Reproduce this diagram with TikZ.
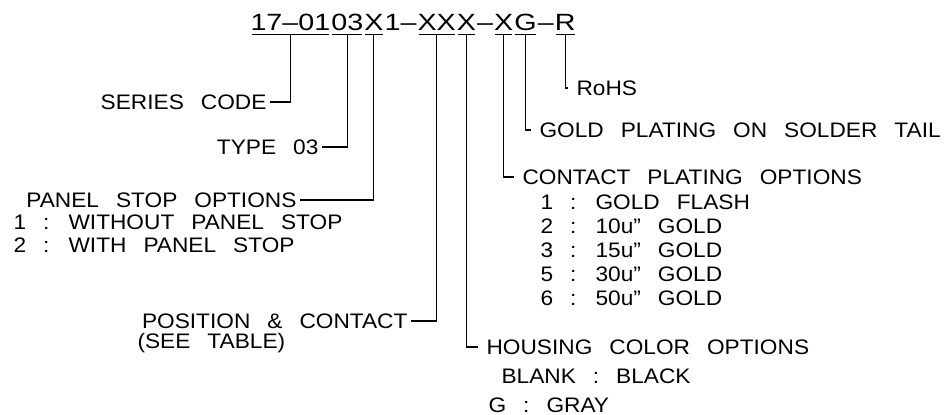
\documentclass[tikz,border=0pt]{standalone}
\usepackage{fontspec}
\newfontfamily\cadfont{Liberation Sans}[FakeStretch=1.08]
\newfontfamily\codefont{Liberation Sans}[FakeStretch=1.22]
\newcommand\cadtext[1]{\cadfont\fontsize{21}{#1}\selectfont\spaceskip=17pt plus 2pt\relax}
\usetikzlibrary{positioning}
\tikzset{
  codechar/.style={font=\codefont\fontsize{23.5}{26}\selectfont,inner xsep=0pt,inner ysep=4pt,text height=17pt,text depth=0pt},
  lbl/.style={font={\cadtext{24}},inner sep=3pt},
  rlbl/.style={lbl,inner xsep=8pt},
  optlist/.style={font={\cadtext{#1}},align=left,inner sep=0pt,anchor=north west},
}
\begin{document}
\begin{tikzpicture}[x=1pt,y=-1pt,line width=1.1pt]
  \useasboundingbox (0,0) rectangle (948,415);
  % part number
  \node[codechar,anchor=base west] (c1701) at (250,30) {17–01};
  \node[codechar,right=0pt of c1701] (c03) {03};
  \node[codechar,right=0pt of c03] (cX) {X};
  \node[codechar,right=0pt of cX] (d1) {1–};
  \node[codechar,right=0pt of d1] (cXX) {XX};
  \node[codechar,right=0pt of cXX] (cXb) {X};
  \node[codechar,right=0pt of cXb] (d2) {–};
  \node[codechar,right=0pt of d2] (cXc) {X};
  \node[codechar,right=0pt of cXc] (cG) {G};
  \node[codechar,right=0pt of cG] (d3) {–};
  \node[codechar,right=0pt of d3] (cR) {R};
  \foreach \n in {c1701,c03,cX,cXX,cXb,cXc,cG,cR}
    \draw ([xshift=1.5pt]\n.south west) -- ([xshift=-1.5pt]\n.south east);
  % left side
  \node[lbl,anchor=east] (series) at (270,102) {SERIES CODE};
  \node[lbl,anchor=east] (type) at (322,147) {TYPE 03};
  \node[lbl,anchor=east] (panel) at (300,200) {PANEL STOP OPTIONS};
  \node[optlist=22.5] (panelopt) at (13,214.5) {1 : WITHOUT PANEL STOP\\2 : WITH PANEL STOP};
  \node[lbl,anchor=east] (pos) at (411,321) {POSITION \& CONTACT};
  \node[optlist=21] (posnote) at (137,333) {(SEE TABLE)};
  % right side
  \node[rlbl,anchor=west] (rohs) at (568,88) {RoHS};
  \node[rlbl,anchor=west] (tail) at (531,130) {GOLD PLATING ON SOLDER TAIL};
  \node[rlbl,anchor=west] (plating) at (514,177) {CONTACT PLATING OPTIONS};
  \node[optlist=24] (platingopt) at (540,194.5) {1 : GOLD FLASH\\2 : 10u” GOLD\\3 : 15u” GOLD\\5 : 30u” GOLD\\6 : 50u” GOLD};
  \node[rlbl,anchor=west] (housing) at (478,347) {HOUSING COLOR OPTIONS};
  \node[optlist=28.5] (housingopt) at (488,368.5) {\hspace*{13pt}BLANK : BLACK\\G : GRAY};
  % leaders
  \draw (c1701.south) |- (series.east);
  \draw (c03.south) |- (type.east);
  \draw (cX.south) |- (panel.east);
  \draw (cXX.south) |- (pos.east);
  \draw (cXb.south) |- (housing.west);
  \draw (cXc.south) |- (plating.west);
  \draw (cG.south) |- (tail.west);
  \draw (cR.south) |- (rohs.west);
\end{tikzpicture}
\end{document}
